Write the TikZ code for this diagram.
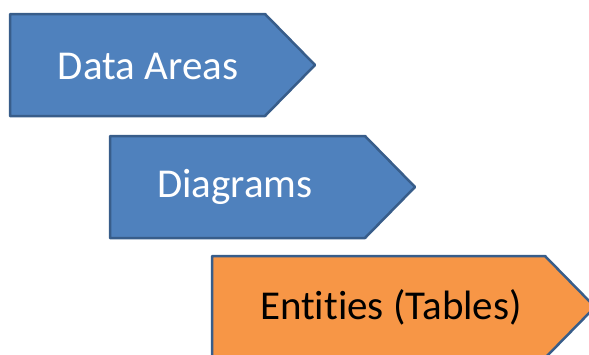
\documentclass[tikz,border=0pt]{standalone}
\usepackage{fontspec}
\setmainfont{Carlito}[Ligatures=NoCommon]
\usetikzlibrary{positioning}

\definecolor{bluefill}{HTML}{4F81BD}
\definecolor{blueline}{HTML}{385D8A}
\definecolor{orangefill}{HTML}{F79646}

\tikzset{
  bluebox/.style={fill=bluefill, draw=blueline, line width=2.5pt, line join=round},
  orangebox/.style={fill=orangefill, draw=blueline, line width=2.5pt, line join=round},
  boxtext/.style={font=\fontsize{41}{48}\selectfont, inner sep=0pt, text=white},
}

\begin{document}
\begin{tikzpicture}[x=1pt, y=-1pt]
\useasboundingbox (0,0) rectangle (589,354);
\clip (0,0) rectangle (589,354);

\coordinate (DA1) at (10,14);
\coordinate (DG1) at (110,136);
\coordinate (EN1) at (212,256);

\path[bluebox] (DA1) -- ++(255,0) -- ++(50,51) -- ++(-50,51) -- ++(-255,0) -- cycle;
\path[bluebox] (DG1) -- ++(255,0) -- ++(50,51) -- ++(-50,51) -- ++(-255,0) -- cycle;
\path[orangebox] (EN1) -- ++(333,0) -- ++(50,51) -- ++(-50,51) -- ++(-333,0) -- cycle;

\node[boxtext] (DA) at (148,66) {Data Areas};
\node[boxtext] (DG) at (235,187) {Diagrams};
\node[boxtext, text=black] (EN) at (391,307) {Entities (Tables)};

\end{tikzpicture}
\end{document}
